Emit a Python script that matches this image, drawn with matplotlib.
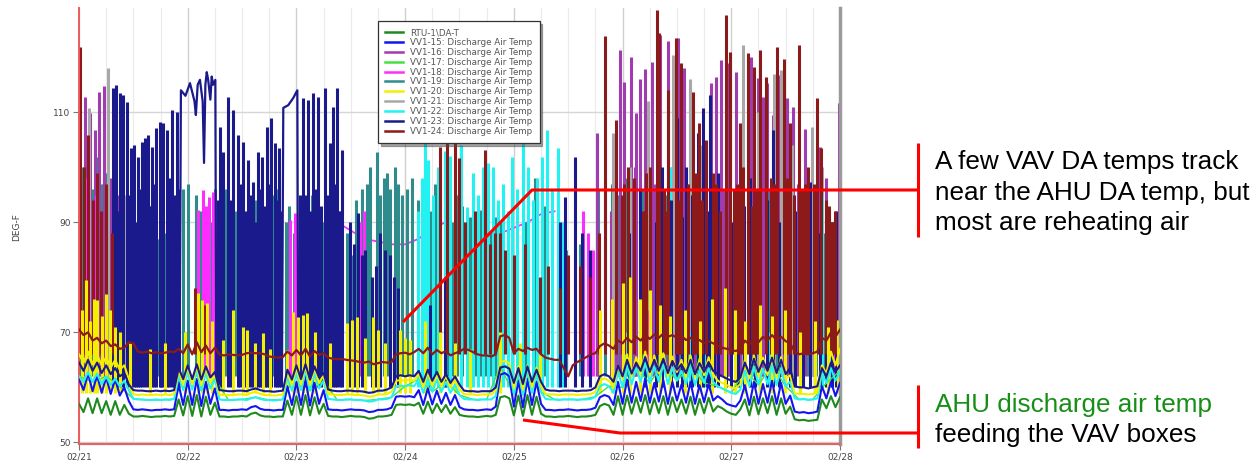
import numpy as np
import matplotlib
matplotlib.use("Agg")
import matplotlib.pyplot as plt

# ---------------- trend data ----------------
# hourly samples, 02/21 00:00 .. 02/28 00:00 (169 points)
hours = np.arange(169)
day_labels = ['02/21', '02/22', '02/23', '02/24', '02/25', '02/26', '02/27', '02/28']

rtu_da = [
    57.0, 55.5, 58.0, 55.3, 58.0, 55.3, 57.5, 55.0, 57.5, 55.0, 56.8, 55.2, 54.7, 54.7, 54.8, 54.7, 54.6, 54.7, 54.7, 54.8, 54.7, 54.8, 57.8, 54.9,
    58.4, 54.8, 58.6, 54.7, 58.3, 55.0, 57.2, 54.7, 54.7, 54.6, 54.7, 54.7, 54.8, 54.7, 55.2, 55.4, 54.9, 54.7, 54.7, 54.6, 54.7, 54.7, 57.6, 55.0,
    58.4, 55.0, 58.6, 54.9, 58.2, 55.2, 57.0, 54.8, 54.7, 54.7, 54.6, 54.7, 54.8, 54.7, 54.7, 54.6, 54.3, 54.4, 54.7, 54.7, 54.8, 55.0, 56.8, 56.9,
    56.8, 56.9, 56.7, 57.2, 55.2, 57.4, 55.3, 57.0, 55.5, 56.8, 55.2, 56.4, 55.0, 54.8, 54.7, 54.7, 54.6, 54.7, 54.8, 54.7, 55.0, 58.2, 58.4, 58.0,
    54.9, 58.5, 54.8, 58.6, 55.0, 58.3, 55.2, 54.7, 54.7, 54.6, 54.7, 54.7, 54.8, 54.7, 54.6, 54.7, 54.7, 54.8, 55.0, 56.6, 57.0, 56.7, 55.0, 58.4,
    55.0, 58.5, 55.2, 58.2, 55.4, 58.6, 55.1, 58.0, 55.3, 58.4, 55.0, 58.2, 55.5, 57.8, 55.2, 58.3, 55.0, 57.9, 55.3, 58.1, 55.6, 56.6, 56.2, 55.6,
    55.2, 55.0, 56.0, 57.8, 54.9, 58.3, 55.1, 58.0, 55.3, 58.4, 55.0, 58.0, 55.2, 56.5, 54.2, 54.0, 54.1, 53.9, 54.0, 54.1, 57.8, 56.2, 58.4, 56.4, 58.2]

vv15 = [
    61.5, 59.5, 62.5, 59.3, 62.2, 59.0, 61.8, 58.8, 61.5, 58.5, 60.0, 57.5, 56.0, 55.9, 56.0, 55.9, 55.8, 55.9, 55.9, 56.0, 55.9, 56.0, 60.5, 56.8,
    61.2, 56.8, 61.5, 56.6, 61.0, 57.0, 59.8, 55.9, 55.9, 55.8, 55.9, 55.9, 56.0, 55.9, 56.4, 56.6, 56.1, 55.9, 55.9, 55.8, 55.9, 55.9, 60.2, 56.8,
    61.0, 56.8, 61.4, 56.7, 60.8, 57.0, 59.5, 56.0, 55.9, 55.9, 55.8, 55.9, 56.0, 55.9, 55.9, 55.8, 55.5, 55.6, 55.9, 55.9, 56.0, 56.3, 58.3, 58.4,
    58.3, 58.4, 58.2, 59.5, 56.8, 59.8, 56.9, 59.4, 57.0, 59.0, 56.8, 58.6, 56.4, 56.0, 55.9, 55.9, 55.8, 55.9, 56.0, 55.9, 56.5, 62.3, 62.6, 62.0,
    56.5, 61.2, 56.4, 61.5, 56.8, 61.0, 57.0, 55.9, 55.9, 55.8, 55.9, 55.9, 56.0, 55.9, 55.8, 55.9, 55.9, 56.0, 56.3, 58.2, 58.6, 58.3, 56.8, 61.0,
    57.0, 61.4, 57.2, 61.0, 57.5, 61.6, 57.2, 60.8, 57.4, 61.3, 57.0, 61.0, 57.6, 60.5, 57.2, 61.0, 57.0, 60.4, 57.3, 60.6, 57.6, 58.4, 57.8, 57.0,
    56.7, 56.5, 57.6, 60.4, 56.8, 61.0, 57.0, 60.6, 57.2, 61.2, 57.0, 60.8, 57.0, 58.5, 55.6, 55.4, 55.5, 55.3, 55.4, 55.6, 60.2, 58.0, 61.0, 58.4, 60.8]

vv22 = [
    62.0, 61.0, 62.8, 61.0, 62.5, 60.6, 62.0, 60.4, 61.6, 60.2, 61.2, 59.5, 57.9, 57.8, 57.8, 57.7, 57.7, 57.8, 57.7, 57.8, 57.7, 57.9, 62.0, 59.5,
    62.8, 59.6, 63.0, 59.4, 62.6, 59.8, 61.5, 57.8, 57.7, 57.7, 57.7, 57.8, 57.8, 57.7, 58.0, 58.2, 57.9, 57.7, 57.7, 57.6, 57.7, 57.8, 61.8, 59.4,
    62.6, 59.5, 63.0, 59.4, 62.5, 59.8, 61.2, 57.9, 57.8, 57.7, 57.7, 57.8, 57.8, 57.7, 57.7, 57.6, 57.4, 57.5, 57.8, 57.8, 57.9, 58.2, 60.2, 60.3,
    60.2, 60.4, 60.2, 61.5, 59.0, 61.8, 59.2, 61.4, 59.2, 61.0, 59.0, 60.5, 58.6, 57.9, 57.8, 57.8, 57.7, 57.8, 57.8, 57.8, 58.4, 63.8, 64.0, 63.5,
    58.8, 62.8, 58.6, 63.0, 59.0, 62.6, 59.2, 57.9, 57.8, 57.8, 57.7, 57.8, 57.8, 57.8, 57.7, 57.8, 57.8, 57.9, 58.3, 60.2, 60.6, 60.2, 59.0, 62.8,
    60.0, 64.0, 60.5, 63.5, 61.0, 64.5, 60.8, 63.8, 61.0, 64.2, 60.6, 63.6, 61.2, 63.0, 60.6, 63.8, 60.4, 63.2, 60.8, 63.5, 61.0, 60.2, 59.8, 59.4,
    59.0, 58.8, 59.6, 63.0, 60.2, 63.8, 60.5, 63.4, 60.6, 64.0, 60.4, 63.5, 60.2, 61.0, 58.0, 57.8, 57.9, 57.7, 57.8, 58.0, 62.5, 60.8, 63.5, 61.2, 63.0]

vv20 = [
    66.0, 64.5, 66.5, 64.2, 66.0, 64.0, 65.5, 63.6, 65.0, 63.2, 64.0, 61.5, 58.8, 58.6, 58.7, 58.6, 58.6, 58.7, 58.6, 58.7, 58.6, 58.8, 63.0, 60.5,
    63.8, 60.5, 64.0, 60.4, 63.6, 60.8, 62.4, 58.7, 58.6, 58.6, 58.6, 58.7, 58.7, 58.6, 59.0, 59.2, 58.8, 58.6, 58.6, 58.5, 58.6, 58.7, 62.8, 60.4,
    63.6, 60.5, 64.0, 60.4, 63.5, 60.8, 62.2, 58.8, 58.7, 58.6, 58.6, 58.7, 58.7, 58.6, 58.6, 58.5, 58.3, 58.4, 58.7, 58.7, 58.8, 59.2, 61.2, 61.3,
    61.2, 61.4, 61.2, 62.5, 60.0, 62.8, 60.2, 62.4, 60.2, 62.0, 60.0, 61.5, 59.6, 58.8, 58.7, 58.7, 58.6, 58.7, 58.7, 58.7, 59.4, 64.6, 64.8, 64.4,
    59.8, 63.8, 59.6, 64.0, 60.0, 63.6, 60.2, 58.8, 58.7, 58.7, 58.6, 58.7, 58.7, 58.7, 58.6, 58.7, 58.7, 58.8, 59.2, 61.2, 61.6, 61.2, 60.0, 64.0,
    61.5, 66.0, 62.0, 65.5, 62.5, 66.5, 62.2, 65.8, 62.6, 66.2, 62.0, 65.6, 62.8, 65.0, 62.0, 65.8, 61.8, 65.2, 62.2, 65.5, 62.4, 61.2, 60.8, 60.4,
    60.0, 59.8, 60.6, 65.0, 61.6, 65.8, 62.0, 65.4, 62.2, 66.0, 61.8, 65.5, 61.6, 62.2, 58.9, 58.8, 58.8, 58.7, 58.8, 59.0, 64.0, 62.5, 66.5, 64.0, 67.0]

vv23 = [
    64.5, 63.0, 65.0, 63.0, 64.5, 62.6, 64.0, 62.4, 63.5, 62.0, 62.6, 60.5, 59.5, 59.4, 59.4, 59.3, 59.3, 59.4, 59.3, 59.4, 59.3, 59.5, 63.5, 61.5,
    64.0, 61.5, 64.2, 61.4, 63.8, 61.8, 62.8, 59.5, 59.4, 59.3, 59.3, 59.4, 59.4, 59.3, 59.6, 59.8, 59.5, 59.3, 59.3, 59.2, 59.3, 59.4, 63.2, 61.4,
    64.0, 61.5, 64.2, 61.4, 63.8, 61.8, 62.6, 59.6, 59.4, 59.3, 59.3, 59.4, 59.4, 59.3, 59.3, 59.2, 59.0, 59.1, 59.4, 59.4, 59.6, 60.0, 62.0, 62.2,
    62.0, 62.2, 62.0, 63.0, 61.0, 63.2, 61.2, 62.8, 61.0, 62.4, 60.8, 62.0, 60.5, 59.4, 59.3, 59.3, 59.2, 59.3, 59.3, 59.3, 60.0, 63.6, 63.8, 63.4,
    60.8, 63.5, 60.6, 63.8, 61.0, 63.2, 61.0, 59.6, 59.4, 59.4, 59.3, 59.4, 59.4, 59.4, 59.3, 59.4, 59.4, 59.5, 60.0, 62.0, 62.4, 62.0, 61.0, 64.0,
    62.0, 65.0, 62.5, 64.5, 63.0, 65.5, 62.8, 65.0, 63.0, 65.2, 62.6, 64.8, 63.2, 64.2, 62.6, 65.0, 62.4, 64.4, 62.8, 64.6, 63.0, 62.5, 62.0, 61.6,
    61.2, 61.0, 61.8, 64.5, 62.4, 65.2, 62.8, 64.8, 63.0, 65.4, 62.6, 65.0, 62.4, 63.5, 60.2, 60.0, 60.0, 59.8, 60.0, 60.2, 63.5, 62.0, 64.5, 62.8, 64.0]

vv24 = [
    70.5, 69.5, 70.0, 68.5, 69.0, 68.0, 68.5, 67.5, 67.8, 67.0, 67.2, 68.2, 68.0, 66.5, 66.3, 66.5, 66.2, 66.4, 66.2, 66.3, 66.5, 66.4, 67.0, 66.2,
    67.8, 66.0, 68.2, 66.4, 67.6, 66.2, 67.2, 66.0, 65.8, 66.0, 65.9, 65.8, 65.9, 66.2, 66.3, 66.2, 66.2, 66.0, 65.6, 65.5, 65.4, 65.5, 66.5, 65.8,
    66.8, 65.8, 67.0, 65.6, 66.6, 65.9, 66.2, 65.4, 65.2, 65.1, 65.2, 65.0, 64.9, 64.8, 64.6, 64.5, 64.7, 64.2, 64.4, 64.6, 64.5, 64.6, 66.0, 66.2,
    66.3, 66.0, 66.4, 67.0, 66.2, 67.2, 66.0, 66.8, 66.2, 66.6, 65.8, 66.2, 66.5, 67.0, 66.8, 66.4, 66.0, 65.8, 65.8, 65.6, 66.0, 69.3, 69.5, 69.0,
    66.2, 67.0, 66.6, 67.2, 66.8, 67.0, 66.0, 65.4, 65.2, 65.0, 65.0, 63.5, 62.0, 64.0, 64.6, 65.0, 65.5, 66.0, 66.2, 67.5, 68.0, 67.6, 67.0, 68.5,
    68.0, 69.0, 68.2, 69.2, 68.5, 69.5, 68.8, 69.6, 69.0, 69.8, 69.2, 69.5, 69.0, 69.4, 68.6, 69.0, 68.2, 68.6, 68.0, 68.4, 68.0, 67.6, 67.2, 67.0,
    66.8, 66.6, 67.0, 68.5, 67.8, 69.0, 68.2, 69.2, 68.5, 69.5, 68.6, 69.2, 68.4, 68.0, 66.5, 66.0, 66.2, 66.0, 66.2, 66.5, 69.0, 68.5, 70.0, 69.2, 70.5]

# 3-hourly samples for VV1-17
hours_3h = np.arange(0, 169, 3)
vv17 = [62.0, 61.0, 62.0, 60.2, 57.9, 57.7, 57.7, 57.9, 62.8, 59.4, 61.5, 57.7, 57.8, 58.2, 57.7, 57.8,
        62.6, 59.4, 61.2, 57.7, 57.8, 57.6, 57.8, 58.2, 60.2, 61.5, 59.2, 61.0, 58.6, 57.8, 57.8, 63.8,
        58.8, 63.0, 59.2, 57.8, 57.8, 57.8, 58.3, 60.2, 60.0, 63.5, 60.8, 64.2, 61.2, 63.8, 60.8, 60.2,
        59.0, 63.0, 60.5, 64.0, 60.2, 57.8, 57.8, 60.8, 63.0]

# VV1-18 slow segment (02/23 09:00 .. 02/25 09:00), 3-hourly
vv18_seg_h = np.arange(57, 106, 3)
vv18_seg_t = [90, 88.5, 87, 86.5, 86, 86, 87, 89, 90, 89, 88.5, 88, 88, 89, 90, 91.5, 92]

# VV1-23 sustained high periods (hour, degF)
vv23_hi1_h = [22.2, 22.5, 23.5, 24.5, 25.5, 25.8, 26.2, 26.7, 27.3, 27.6, 27.9, 28.2, 28.5, 29.0, 29.3, 29.6, 30.1, 30.3]
vv23_hi1_t = [62, 114.0, 113.0, 115.3, 112.0, 109.5, 115.0, 115.9, 112.0, 100.8, 115.0, 117.3, 116.0, 112.3, 116.5, 115.0, 115.9, 62]
vv23_hi2_h = [44.8, 45.1, 46.2, 47.3, 48.2, 48.4]
vv23_hi2_t = [62, 110.8, 111.3, 112.6, 114.0, 62]

# reheat spikes: hour of peak, peak degF, and resting level
vv23_spk_h = [7.5, 8.2, 8.8, 9.1, 9.7, 10.6, 11.0, 11.5, 12.1, 12.6, 13.0, 13.5, 13.9, 14.6, 15.2, 15.7, 16.1, 16.6, 17.0, 17.9, 18.2, 18.5, 19.4, 19.9, 20.5, 21.0, 21.6,
              31.1, 31.5, 31.8, 32.9, 33.5, 34.0, 35.1, 35.6, 36.2, 36.8, 37.3, 38.0, 38.4, 39.0, 39.5, 40.0, 40.4, 41.0, 41.5, 42.0, 42.4, 43.3, 43.8, 44.2,
              49.5, 50.0, 50.6, 51.2, 51.7, 52.2, 52.8, 53.5, 54.3, 55.0, 55.4, 56.1, 56.6, 57.0, 57.6, 58.1, 59.8, 61.6, 63.1, 64.7, 66.5, 68.7, 70.4,
              77.5, 80.8, 106.2, 107.3, 109.5, 111.1, 112.8,
              123.9, 126.1, 128.7, 132.0, 134.0, 136.7, 137.8, 139.3, 141.1, 142.9, 145.5, 148.2, 150.4, 153.2, 155.9, 158.1, 161.4, 163.6, 166.3,
              120.0, 121.5, 125.0, 127.3, 130.6, 133.2, 135.4, 138.6, 140.2, 144.0, 146.8, 149.3, 151.8, 154.5, 157.0, 159.8, 162.4, 165.0, 167.2,
              22.0, 30.6, 44.6, 48.7, 60.6, 62.4, 65.6, 67.5, 69.6]
vv23_spk_t = [114.4, 115.0, 92, 113.5, 113.1, 111.9, 95, 103.5, 104.0, 90, 101.9, 96, 104.6, 105.3, 105.9, 93, 103.7, 97, 107.1, 108.3, 94, 108.0, 106.8, 98, 110.4, 95, 110.1,
              107.3, 96, 102.8, 112.8, 94, 110.4, 105.9, 97, 104.6, 92, 101.3, 95, 97.3, 90, 102.8, 96, 101.9, 93, 107.3, 97, 109.0, 104.4, 94, 103.5,
              112.6, 95, 112.3, 92, 113.5, 96, 112.8, 93, 114.4, 95, 104.4, 111.0, 97, 114.4, 92, 103.2, 90, 91.7, 85, 80, 88, 84, 78,
              75, 80, 90, 94.6, 101.9, 88, 85,
              96, 98, 100, 109, 100, 106.2, 110.8, 113.2, 99, 95, 94, 98, 92, 106.8, 96, 92, 97.3, 88, 90,
              90, 88, 92, 90, 94, 91, 95, 92, 96, 90, 93, 91, 94, 90, 92, 89, 91, 88, 92,
              96, 94, 92, 95, 86, 84, 82, 85, 80]
vv23_rest = 60

vv19_spk_h = [0.7, 1.5, 2.9, 4.2, 5.3, 6.4, 8.6, 10.8, 13.5, 15.7, 19.0, 21.2, 23.0,
              24.1, 25.8, 29.4, 31.1, 32.5, 34.7, 36.9, 39.1, 41.3, 43.5, 45.7, 47.5,
              48.8, 51.4, 53.7, 56.5, 58.1, 60.3, 62.5, 64.3, 65.8, 67.3, 68.7, 69.8, 71.3,
              73.5, 74.9, 77.5, 79.7, 82.4, 84.6, 86.3, 88.5, 90.7,
              93.0, 95.6, 98.5, 100.7, 102.9, 104.4, 107.5, 110.6, 112.8, 114.6, 116.1,
              117.7, 119.0, 120.8, 122.5, 124.3, 126.1, 127.8, 129.6, 130.9, 132.7, 134.5, 136.2, 138.0, 139.8, 141.5,
              143.3, 145.1, 146.8, 148.6, 150.4, 152.1, 153.9, 155.7, 157.4, 159.2, 161.0, 162.7, 164.5, 166.3, 167.6,
              0.3, 1.1, 2.2, 3.6, 4.8, 5.8, 7.0, 9.5, 12.2, 14.2, 17.5, 20.2, 22.0, 27.0, 30.0,
              33.2, 35.8, 38.0, 40.2, 42.8, 44.6, 46.4, 50.2, 52.5, 55.2, 57.3, 59.2, 61.2, 63.6,
              66.5, 68.0, 70.5, 72.5, 76.2, 78.6, 81.2, 83.5, 87.4, 89.6, 92.0]
vv19_spk_t = [100, 101.3, 96, 101.9, 97, 95, 92, 94, 90, 93, 88, 92, 96,
              97, 95, 90, 98.3, 96, 92, 90, 94, 92, 96, 90, 88,
              92, 95, 90, 88, 85, 84, 96, 100, 102.8, 98, 96, 100, 95,
              98, 94, 92, 96, 90, 93, 91, 92.2, 88,
              90, 86, 90, 98, 93, 88, 85, 86, 84, 96, 98,
              97, 95, 98, 93, 96, 92, 99, 95, 100, 94, 97, 92, 95, 93, 96,
              90, 95, 92, 97, 94, 96, 91, 95, 88, 93, 87, 86, 88, 90, 89,
              95, 98, 99, 100, 97, 99, 93, 90, 88, 91, 87, 90, 94, 92, 96,
              90, 93, 88, 92, 95, 89, 93, 90, 93, 89, 92, 88, 94, 97,
              95, 99, 97, 96, 95, 97, 93, 95, 90, 94, 91]
vv19_rest = 62

vv16_spk_h = [1.3, 2.4, 3.5, 4.4, 5.5, 6.8, 8.6,
              114.4, 117.5, 119.5, 120.3, 121.9, 123.0, 123.9, 125.0, 126.5, 128.3, 130.1, 132.3, 133.6, 134.9, 137.1,
              139.5, 140.6, 141.8, 143.5, 145.1, 148.4, 149.9, 151.0, 151.9, 153.2, 154.8, 156.3, 157.7, 160.3, 163.6, 167.8,
              118.5, 122.8, 127.2, 131.5, 135.8, 138.3, 142.5, 146.2, 150.8, 155.3, 158.8, 162.0, 165.0]
vv16_spk_t = [112.8, 109.9, 106.8, 113.7, 114.8, 98, 95,
              106.2, 92, 121.3, 115.5, 120.0, 109.9, 116.0, 117.9, 119.2, 124.0, 123.0, 123.5, 118.0, 114.6, 100,
              115.3, 116.4, 119.5, 118.9, 117.3, 120.0, 116.3, 112.8, 115.3, 109.5, 116.8, 112.6, 111.0, 107.0, 103.7, 111.6,
              98, 100, 97, 102, 98, 101, 96, 103, 99, 100, 97, 95, 98]
vv16_rest = 62

vv24_spk_h = [0.2, 1.1, 2.0, 3.1, 4.0, 4.9, 6.0, 7.3, 25.6, 27.8,
              79.7, 81.3, 83.0, 83.9, 85.2, 87.4, 89.6, 90.7, 91.9, 93.0, 94.1, 101.8, 106.2, 112.8,
              116.1, 118.6, 119.8, 121.2, 122.5, 124.5, 126.0, 127.6, 128.1, 129.2, 130.1, 131.8, 133.0, 134.5, 135.6,
              136.9, 137.5, 138.4, 140.0, 141.5, 142.9, 143.7, 144.5, 145.9, 146.5, 147.7, 148.5, 149.0, 150.4, 151.7,
              152.8, 154.1, 155.6, 157.0, 157.8, 159.0, 160.2, 161.0, 162.9, 163.8, 164.8, 166.3, 167.0,
              114.8, 120.4, 125.2, 129.8, 132.5, 136.3, 140.7, 145.2, 149.7, 153.4, 156.3, 159.6, 162.3, 165.5,
              96.0, 98.5, 103.5, 108.0, 110.5]
vv24_spk_t = [121.9, 100, 105.9, 94, 99, 92, 97, 88, 78, 75,
              103.7, 104.4, 104.4, 101.7, 90, 92, 103.2, 86, 88, 88, 85, 80, 78, 80,
              123.8, 108.6, 95, 100, 98, 92, 100, 128.6, 124.4, 96, 114, 123.5, 119, 97, 113.7,
              108, 94, 105, 99, 92, 127.7, 121, 96, 108, 100, 120.8, 93, 118.3, 121.3, 116.4,
              98, 121.9, 119.7, 108, 95, 122.3, 97, 100, 112.6, 103.5, 94, 90, 92,
              88, 97, 99, 92, 94, 99, 97, 97, 96, 97, 98, 96, 97, 93,
              84, 86, 82, 84, 82]
vv24_rest = 66

vv21_spk_h = [2.2, 6.4, 9.9, 117.9, 121.7, 125.6, 131.2, 134.9, 137.6, 146.6, 149.9, 153.5, 155.0, 157.4, 161.8, 164.1]
vv21_spk_t = [110.8, 118, 95, 106.2, 100, 112, 120.5, 116, 104, 122.3, 110, 117, 117.7, 104, 107.4, 100]
vv21_rest = 62

vv18_spk_h = [1.5, 3.8, 26.3, 27.4, 28.0, 28.7, 29.6, 30.5, 46.6, 47.7, 48.8, 52.8, 54.5, 62.0, 63.0,
              74.9, 109.5, 111.3, 112.4, 113.5, 121.7, 125.6, 137.1, 150.4, 165.4, 166.9]
vv18_spk_t = [98, 95, 92.2, 95.9, 93, 94.6, 95.5, 90, 90.4, 91.7, 88, 85, 88, 90, 92,
              88, 86, 92, 88, 85, 76, 74, 72, 75, 78, 80]
vv18_rest = 62

vv22_spk_h = [74.9, 75.7, 76.4, 77.0, 78.2, 79.3, 80.8, 81.9, 83.0, 84.3, 85.7, 87.0, 88.1, 89.2, 90.3,
              91.4, 92.5, 93.6, 94.7, 95.6, 96.7, 98.0, 99.1, 100.2, 101.1, 102.2, 103.3, 104.4, 105.7, 106.9,
              120.5, 123.9, 128.3, 130.5, 134.9, 138.0, 144.8, 145.5, 148.1, 152.6, 157.0, 164.0, 165.8]
vv22_spk_t = [92, 98, 104.4, 101.3, 95, 100, 103, 102, 99, 104, 92.8, 98.9, 95, 100, 100.8,
              100, 94, 97, 92, 101.9, 96, 104.4, 100, 94, 98, 101.9, 106.8, 96, 103.5, 90,
              70, 68, 97, 100, 70, 97.7, 71, 97, 72, 70, 97.7, 95, 69]
vv22_rest = 60

vv20_spk_h = [0.66, 1.55, 2.43, 3.31, 3.97, 5.08, 5.96, 6.84, 7.95, 9.05, 11.26, 15.67, 18.99, 23.4,
              26.3, 27.2, 28.3, 29.4, 31.8, 34.0, 36.2, 37.1, 38.9, 40.6, 42.2, 45.9, 47.2, 48.3, 49.4, 50.3,
              52.1, 55.4, 59.2, 60.3, 61.4, 63.1, 64.9, 66.0, 67.6, 70.9, 72.0, 73.1, 76.4, 79.7, 83.0, 86.3,
              92.9, 97.4, 101.8, 115.0, 117.7, 120.1, 121.7, 123.9, 126.1, 128.3, 130.5, 133.8, 137.1, 139.7,
              142.6, 144.8, 147.0, 150.4, 153.0, 155.9, 159.2, 162.5, 165.4, 167.6]
vv20_spk_t = [74, 79.5, 72, 76, 75.9, 73, 77, 74, 71, 70, 68, 67, 68, 70,
              77.1, 75.9, 75.3, 72, 68.6, 74, 71, 70.4, 68, 69.8, 67, 66.8, 73.7, 72.8, 73.2, 73.5,
              70, 68, 71.7, 72.2, 72.8, 69, 72.8, 70.4, 68, 70.4, 69, 68.6, 72, 70, 68, 67,
              70, 68, 66, 74, 76, 79, 80, 76, 77.7, 75, 73, 74, 72, 76,
              78, 74, 72, 75, 73, 74, 70, 72, 71, 72.2]
vv20_rest = 59

legend_names = ['RTU-1\\DA-T'] + ['VV1-%d: Discharge Air Temp' % n for n in range(15, 25)]

# ---------------- styles ----------------
C_RTU, C15, C16, C17, C18 = '#1e8a1e', '#1414f0', '#a03cb0', '#44e044', '#ff2cff'
C19, C20, C21, C22, C23, C24 = '#2f8c8c', '#f2f000', '#a8a8a8', '#22f2f2', '#1a1a8c', '#8c1a1a'
colors = [C_RTU, C15, C16, C17, C18, C19, C20, C21, C22, C23, C24]

W, H = 1260, 468
fig = plt.figure(figsize=(W / 100, H / 100), dpi=100)
ax = fig.add_axes([79 / W, 1 - 444 / H, 761 / W, 436 / H])

SPW = 2.2
ax.plot(vv18_seg_h, vv18_seg_t, color=C18, lw=1.3, zorder=2)
ax.vlines(vv19_spk_h, vv19_rest, vv19_spk_t, color=C19, lw=SPW, zorder=2)
ax.vlines(vv16_spk_h, vv16_rest, vv16_spk_t, color=C16, lw=SPW, zorder=2)
ax.vlines(vv21_spk_h, vv21_rest, vv21_spk_t, color=C21, lw=SPW, zorder=2)
ax.vlines(vv18_spk_h, vv18_rest, vv18_spk_t, color=C18, lw=SPW, zorder=2)
ax.vlines(vv22_spk_h, vv22_rest, vv22_spk_t, color=C22, lw=SPW, zorder=2)
ax.vlines(vv23_spk_h, vv23_rest, vv23_spk_t, color=C23, lw=SPW, zorder=2)
ax.plot(vv23_hi1_h, vv23_hi1_t, color=C23, lw=1.6, zorder=2)
ax.plot(vv23_hi2_h, vv23_hi2_t, color=C23, lw=1.6, zorder=2)
ax.vlines(vv24_spk_h, vv24_rest, vv24_spk_t, color=C24, lw=SPW, zorder=2)
ax.vlines(vv20_spk_h, vv20_rest, vv20_spk_t, color=C20, lw=SPW, zorder=2)

ax.plot(hours_3h, vv17, color=C17, lw=1.0, zorder=3)
ax.plot(hours, rtu_da, color=C_RTU, lw=1.5, zorder=3)
ax.plot(hours, vv15, color=C15, lw=1.5, zorder=3)
ax.plot(hours, vv22, color=C22, lw=1.5, zorder=3)
ax.plot(hours, vv20, color=C20, lw=1.5, zorder=3)
ax.plot(hours, vv23, color=C23, lw=1.5, zorder=3)
ax.plot(hours, vv24, color=C24, lw=1.6, zorder=3)

ax.set_xlim(0, 168)
ax.set_ylim(49.7, 128.96)
ax.set_xticks(np.arange(0, 169, 24))
ax.set_xticklabels(day_labels)
ax.set_xticks(np.arange(0, 169, 6), minor=True)
ax.set_yticks([50, 70, 90, 110])
ax.tick_params(which='major', labelsize=6.5, labelcolor='#444444', color='#777777', length=4, width=0.8, pad=2)
ax.tick_params(which='minor', length=0)
ax.grid(which='major', axis='x', color='#cfcfcf', lw=1.0)
ax.grid(which='minor', axis='x', color='#ebebeb', lw=0.8)
ax.grid(which='major', axis='y', color='#d6d6d6', lw=1.0)
ax.set_axisbelow(True)
ax.spines['top'].set_visible(False)
ax.spines['right'].set_color('#9a9a9a')
ax.spines['right'].set_linewidth(2.5)
ax.spines['left'].set_color('#ee5a5a')
ax.spines['left'].set_linewidth(1.4)
ax.spines['bottom'].set_color('#e06666')
ax.spines['bottom'].set_linewidth(1.6)

fig.text(17 / W, 1 - 227 / H, 'DEG-F', rotation=90, ha='center', va='center',
         fontsize=6.5, color='#444444')

handles = [ax.plot([], [], color=c, lw=1.8)[0] for c in colors]
leg = ax.legend(handles, legend_names, loc='upper left', bbox_to_anchor=(0.393, 0.970),
                borderaxespad=0, fontsize=6.3, labelspacing=0.1, handlelength=2.0,
                handletextpad=0.9, borderpad=0.8, fancybox=False, shadow=True,
                framealpha=1, edgecolor='#333333')
leg.get_frame().set_linewidth(0.9)
for t in leg.get_texts():
    t.set_color('#555555')
leg.set_zorder(10)

# ---------------- annotations (pixel overlay) ----------------
ov = fig.add_axes([0, 0, 1, 1], zorder=20)
ov.set_xlim(0, W)
ov.set_ylim(H, 0)
ov.axis('off')
RED = '#ff0000'
ov.plot([403, 532, 918], [322, 190, 190], color=RED, lw=2.2, solid_capstyle='butt')
ov.plot([918, 918], [143, 237], color=RED, lw=2.2, solid_capstyle='butt')
ov.plot([523, 620, 918], [420, 433, 433], color=RED, lw=2.2, solid_capstyle='butt')
ov.plot([918, 918], [385, 448], color=RED, lw=2.2, solid_capstyle='butt')

FONT = dict(family='Liberation Sans', fontsize=18.8, va='baseline', ha='left')
ov.text(935, 169, 'A few VAV DA temps track', color='black', **FONT)
ov.text(935, 200, 'near the AHU DA temp, but', color='black', **FONT)
ov.text(935, 230, 'most are reheating air', color='black', **FONT)
ov.text(935, 412, 'AHU discharge air temp', color='#178f17', **FONT)
ov.text(935, 442, 'feeding the VAV boxes', color='black', **FONT)

fig.savefig('out.png', dpi=100)
